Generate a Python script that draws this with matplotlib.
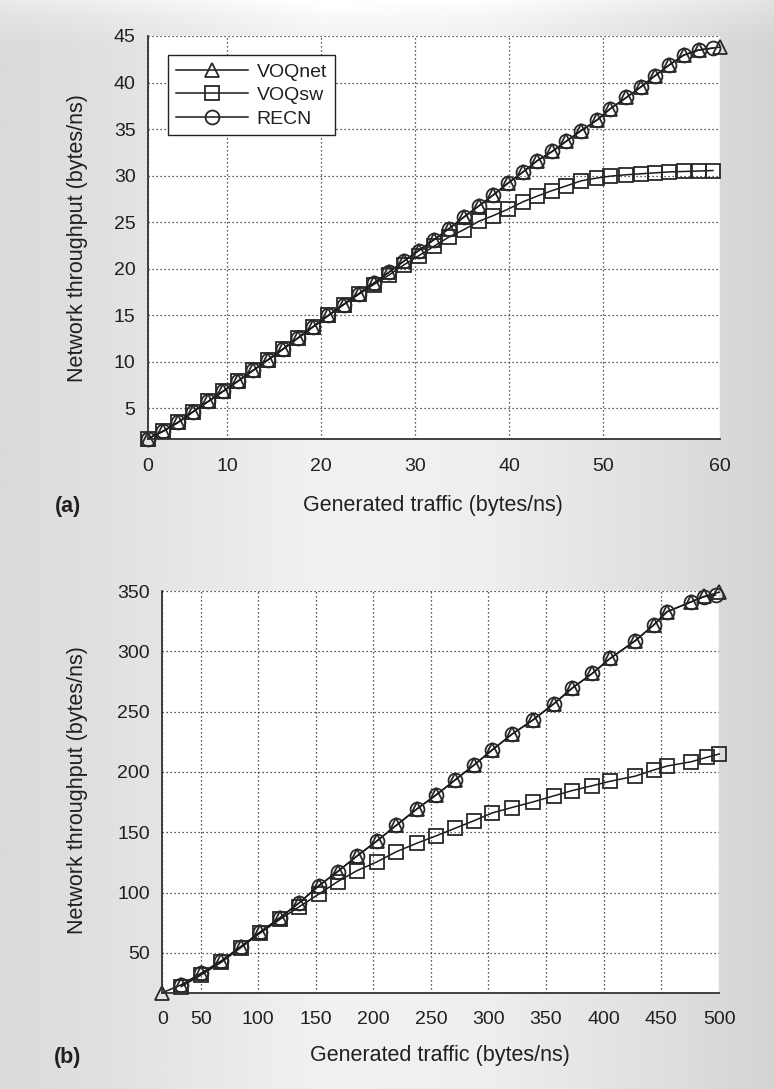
import matplotlib
matplotlib.use('Agg')
import matplotlib.pyplot as plt
import numpy as np

plt.rcParams['font.family'] = ['Liberation Sans', 'DejaVu Sans']

# ---- panel (a): small network ----
a_x = [1.6, 3.2, 4.8, 6.4, 8.0, 9.6, 11.2, 12.8, 14.4, 16.0, 17.6, 19.2, 20.8,
       22.4, 24.0, 25.6, 27.2, 28.8, 30.4, 32.0, 33.6, 35.2, 36.8, 38.3, 39.9,
       41.5, 43.0, 44.6, 46.1, 47.7, 49.4, 50.8, 52.5, 54.0, 55.5, 57.0, 58.6,
       60.2, 61.7]
a_net_x = [1.6, 3.2, 4.8, 6.4, 8.0, 9.6, 11.2, 12.8, 14.4, 16.0, 17.6, 19.2, 20.8,
           22.4, 24.0, 25.6, 27.2, 28.8, 30.4, 32.0, 33.6, 35.2, 36.8, 38.3, 39.9,
           41.5, 43.0, 44.6, 46.1, 47.7, 49.4, 50.8, 52.5, 54.0, 55.5, 57.0, 58.6,
           60.2, 62.4]
a_voqnet = [1.75, 2.55, 3.5, 4.65, 5.75, 6.85, 7.95, 9.1, 10.25, 11.4, 12.6, 13.8,
            15.0, 16.15, 17.3, 18.45, 19.6, 20.8, 21.95, 23.1, 24.3, 25.55, 26.75,
            27.9, 29.2, 30.4, 31.6, 32.6, 33.7, 34.85, 36.0, 37.2, 38.4, 39.5, 40.7,
            41.85, 42.95, 43.5, 43.8]
a_voqsw = [1.75, 2.55, 3.5, 4.65, 5.75, 6.85, 7.95, 9.1, 10.25, 11.4, 12.6, 13.8,
           15.0, 16.15, 17.25, 18.3, 19.3, 20.4, 21.4, 22.4, 23.4, 24.2, 25.1, 25.7,
           26.4, 27.2, 27.8, 28.4, 28.9, 29.45, 29.75, 29.95, 30.1, 30.2, 30.3,
           30.4, 30.45, 30.5, 30.55]
a_recn = [1.75, 2.55, 3.5, 4.65, 5.75, 6.85, 7.95, 9.1, 10.25, 11.4, 12.6, 13.8,
          15.0, 16.15, 17.3, 18.45, 19.6, 20.8, 21.95, 23.1, 24.3, 25.55, 26.75,
          27.9, 29.2, 30.4, 31.6, 32.6, 33.7, 34.85, 36.0, 37.2, 38.4, 39.5, 40.7,
          41.85, 42.95, 43.5, 43.7]
a_xticks = [10, 20, 30, 40, 50]
a_xlabels = ['0', '10', '20', '30', '40', '50', '60']
a_yticks = [5, 10, 15, 20, 25, 30, 35, 40, 45]

# ---- panel (b): large network ----
b_net_x = [16.7, 33.2, 50.6, 68.1, 84.9, 101.5, 119.0, 135.8, 152.4, 169.0, 185.9,
           203.4, 220.0, 237.7, 254.5, 271.0, 287.5, 303.2, 320.3, 338.5, 356.5,
           372.5, 390.2, 405.8, 427.4, 443.4, 455.1, 476.3, 487.1, 500.5]
b_voqnet = [17.0, 23.5, 33.2, 43.4, 55.2, 67.1, 79.2, 91.7, 105.5, 117.4, 130.4,
            143.0, 155.8, 169.2, 180.9, 193.3, 205.8, 218.2, 231.2, 243.0, 256.3,
            269.3, 281.7, 294.2, 308.7, 321.7, 332.8, 341.1, 345.5, 349.0]
b_x = [33.2, 50.6, 68.1, 84.9, 101.5, 119.0, 135.8, 152.4, 169.0, 185.9, 203.4,
       220.0, 237.7, 254.5, 271.0, 287.5, 303.2, 320.3, 338.5, 356.5, 372.5, 390.2,
       405.8, 427.4, 443.4, 455.1, 476.3, 487.1, 497.2]
b_recn = [23.5, 33.2, 43.4, 55.2, 67.1, 79.2, 91.7, 105.5, 117.4, 130.4, 143.0,
          155.8, 169.2, 180.9, 193.3, 205.8, 218.2, 231.2, 243.0, 256.3, 269.3,
          281.7, 294.2, 308.7, 321.7, 332.8, 341.1, 345.2, 346.6]
b_sw_x = [33.2, 50.6, 68.1, 84.9, 101.5, 119.0, 135.8, 152.4, 169.0, 185.9, 203.4,
          220.0, 237.7, 254.5, 271.0, 287.5, 303.2, 320.3, 338.5, 356.5, 372.5,
          390.2, 405.8, 427.4, 443.4, 455.1, 476.3, 490.0, 500.5]
b_voqsw = [22.1, 31.8, 42.3, 54.4, 66.3, 77.9, 88.4, 98.6, 109.1, 118.2, 125.6,
           133.9, 140.9, 147.0, 153.3, 159.6, 166.0, 170.5, 175.1, 180.1, 184.5,
           188.6, 192.3, 196.5, 201.6, 204.9, 208.5, 212.2, 214.9]
b_xticks = [50, 100, 150, 200, 250, 300, 350, 400, 450]
b_xlabels = ['0', '50', '100', '150', '200', '250', '300', '350', '400', '450', '500']
b_yticks = [50, 100, 150, 200, 250, 300, 350]

W, H = 774, 1089
TXT = '#231f20'
LINE = '#1a1a1a'
MK = '#282828'
TICK_FS = 14
LAB_FS = 15.5

fig = plt.figure(figsize=(W / 100, H / 100), dpi=100)

# grey gradient backdrop, a little lighter along the top edge
bg = fig.add_axes([0, 0, 1, 1], zorder=0)
bg.axis('off')
prof = np.interp(np.linspace(0, 1, 500),
                 [0, 0.12, 0.42, 0.62, 0.85, 1.0],
                 [0.855, 0.875, 0.945, 0.935, 0.875, 0.83])
vert = np.interp(np.linspace(0, 1, 300), [0, 0.015, 0.04, 1], [0.06, 0.03, 0, 0])
grad = np.clip(prof[None, :] + vert[:, None], 0, 1)
bg.imshow(grad, cmap='gray', vmin=0, vmax=1, aspect='auto', extent=[0, 1, 0, 1])


def rect(l, t, r, b):
    return [l / W, 1 - b / H, (r - l) / W, (b - t) / H]


def style(ax, xmin, xmax, ymin, ymax, xt, xl, yt, xpad, ypad):
    ax.set_facecolor('white')
    ax.set_xlim(xmin, xmax)
    ax.set_ylim(ymin, ymax)
    # end labels sit on the axis edges, as in the original figure
    ax.set_xticks([xmin] + xt + [xmax])
    ax.set_xticklabels(xl)
    ax.set_yticks(yt)
    ax.grid(True, color='#222222', linestyle=(0, (1, 2.2)), linewidth=0.9)
    ax.set_axisbelow(True)
    for s in ['top', 'right']:
        ax.spines[s].set_visible(False)
    for s in ['left', 'bottom']:
        ax.spines[s].set_color('#333333')
        ax.spines[s].set_linewidth(1.3)
    ax.tick_params(axis='x', length=0, pad=xpad, labelsize=TICK_FS, labelcolor=TXT)
    ax.tick_params(axis='y', length=0, pad=ypad, labelsize=TICK_FS, labelcolor=TXT)


mk = dict(color=LINE, lw=1.1, mfc='none', mec=MK, mew=1.3, ms=10, clip_on=False)

ax1 = fig.add_axes(rect(148, 36, 719.5, 438.7), zorder=1)
ax1.plot(a_net_x, a_voqnet, marker='^', label='VOQnet', **mk)
ax1.plot(a_x, a_voqsw, marker='s', label='VOQsw', **mk)
ax1.plot(a_x, a_recn, marker='o', label='RECN', **mk)
style(ax1, a_net_x[0], a_net_x[-1], a_voqnet[0], 45, a_xticks, a_xlabels,
      a_yticks, 14, 9)
leg = ax1.legend(loc='upper left', bbox_to_anchor=(0.035, 0.952), fontsize=14,
                 handlelength=3.7, handletextpad=0.45, labelspacing=0.3,
                 borderpad=0.4, numpoints=1, fancybox=False, framealpha=1,
                 edgecolor='#222222', borderaxespad=0)
leg.get_frame().set_linewidth(1.0)
for t in leg.get_texts():
    t.set_color(TXT)

ax2 = fig.add_axes(rect(162.3, 591, 719.3, 992.7), zorder=1)
ax2.plot(b_net_x, b_voqnet, marker='^', **mk)
ax2.plot(b_sw_x, b_voqsw, marker='s', **mk)
ax2.plot(b_x, b_recn, marker='o', **mk)
style(ax2, b_net_x[0], b_net_x[-1], b_voqnet[0], 350, b_xticks, b_xlabels,
      b_yticks, 13, 9)

lab = dict(color=TXT, fontsize=LAB_FS)
fig.text(433 / W, 1 - 505 / H, 'Generated traffic (bytes/ns)', ha='center', va='center', **lab)
fig.text(440 / W, 1 - 1055 / H, 'Generated traffic (bytes/ns)', ha='center', va='center', **lab)
fig.text(78 / W, 1 - 238 / H, 'Network throughput (bytes/ns)', rotation=90,
         ha='center', va='center', **lab)
fig.text(78 / W, 1 - 790 / H, 'Network throughput (bytes/ns)', rotation=90,
         ha='center', va='center', **lab)
fig.text(68 / W, 1 - 507 / H, '(a)', ha='center', va='center', fontweight='bold', **lab)
fig.text(68 / W, 1 - 1057 / H, '(b)', ha='center', va='center', fontweight='bold', **lab)

fig.savefig('out.png', dpi=100)
